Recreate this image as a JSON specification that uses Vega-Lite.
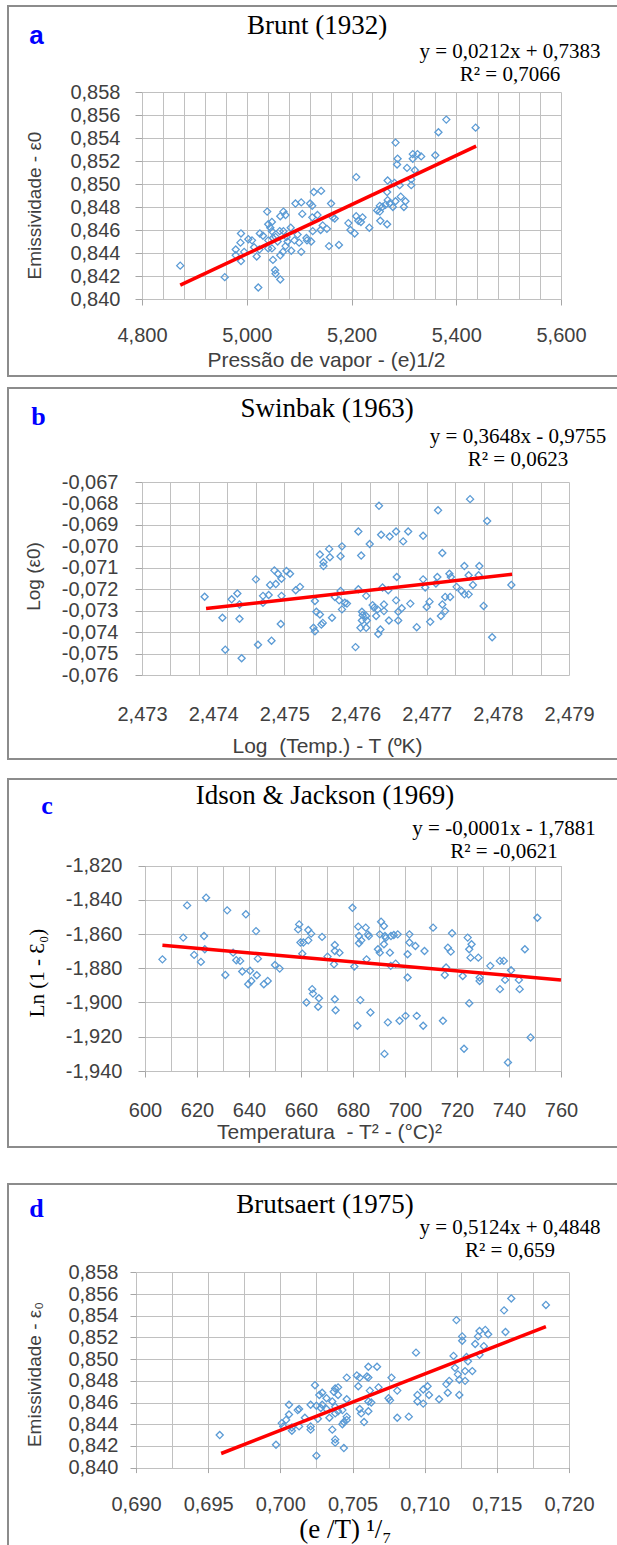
{
"$schema": "https://vega.github.io/schema/vega-lite/v6.json",
"background": "white",
"padding": {"left": 7, "top": 5, "right": -26, "bottom": -20},
"config": {
  "axis": {"labelFont": "Liberation Sans", "labelFontSize": 20, "labelColor": "#404040", "labelOverlap": false, "labelFlush": false,
           "titleFont": "Liberation Sans", "titleFontSize": 21, "titleFontWeight": "normal", "titleColor": "#404040",
           "gridColor": "#C0C0C0", "gridWidth": 1, "gridOpacity": 1, "tickColor": "#A6A6A6", "tickWidth": 1, "domain": false}
},
"datasets": {
  "a": [{"x":4.873,"y":0.8429},{"x":4.958,"y":0.8419},{"x":4.979,"y":0.8443},{"x":4.979,"y":0.8438},{"x":4.988,"y":0.8449},{"x":4.989,"y":0.8457},{"x":4.989,"y":0.8433},{"x":4.995,"y":0.8441},{"x":5.003,"y":0.8452},{"x":5.010,"y":0.8451},{"x":5.014,"y":0.8445},{"x":5.019,"y":0.8437},{"x":5.022,"y":0.8410},{"x":5.024,"y":0.8443},{"x":5.025,"y":0.8457},{"x":5.031,"y":0.8455},{"x":5.039,"y":0.8476},{"x":5.041,"y":0.8465},{"x":5.041,"y":0.8451},{"x":5.041,"y":0.8444},{"x":5.045,"y":0.8462},{"x":5.048,"y":0.8467},{"x":5.048,"y":0.8459},{"x":5.048,"y":0.8444},{"x":5.050,"y":0.8453},{"x":5.050,"y":0.8434},{"x":5.054,"y":0.8425},{"x":5.055,"y":0.8422},{"x":5.055,"y":0.8454},{"x":5.059,"y":0.8450},{"x":5.063,"y":0.8459},{"x":5.064,"y":0.8472},{"x":5.064,"y":0.8438},{"x":5.064,"y":0.8417},{"x":5.069,"y":0.8441},{"x":5.070,"y":0.8476},{"x":5.070,"y":0.8459},{"x":5.074,"y":0.8473},{"x":5.074,"y":0.8446},{"x":5.076,"y":0.8454},{"x":5.078,"y":0.8450},{"x":5.084,"y":0.8462},{"x":5.085,"y":0.8442},{"x":5.091,"y":0.8451},{"x":5.093,"y":0.8483},{"x":5.097,"y":0.8456},{"x":5.100,"y":0.8449},{"x":5.104,"y":0.8484},{"x":5.104,"y":0.8441},{"x":5.106,"y":0.8474},{"x":5.114,"y":0.8453},{"x":5.115,"y":0.8451},{"x":5.121,"y":0.8483},{"x":5.123,"y":0.8450},{"x":5.125,"y":0.8481},{"x":5.125,"y":0.8471},{"x":5.126,"y":0.8459},{"x":5.128,"y":0.8493},{"x":5.135,"y":0.8473},{"x":5.141,"y":0.8460},{"x":5.142,"y":0.8494},{"x":5.145,"y":0.8464},{"x":5.153,"y":0.8461},{"x":5.157,"y":0.8446},{"x":5.161,"y":0.8483},{"x":5.164,"y":0.8471},{"x":5.168,"y":0.8470},{"x":5.176,"y":0.8447},{"x":5.194,"y":0.8466},{"x":5.198,"y":0.8460},{"x":5.206,"y":0.8457},{"x":5.209,"y":0.8472},{"x":5.209,"y":0.8506},{"x":5.213,"y":0.8468},{"x":5.218,"y":0.8467},{"x":5.221,"y":0.8471},{"x":5.234,"y":0.8462},{"x":5.249,"y":0.8477},{"x":5.254,"y":0.8476},{"x":5.254,"y":0.8481},{"x":5.255,"y":0.8468},{"x":5.259,"y":0.8480},{"x":5.265,"y":0.8482},{"x":5.268,"y":0.8465},{"x":5.268,"y":0.8493},{"x":5.269,"y":0.8503},{"x":5.269,"y":0.8486},{"x":5.273,"y":0.8483},{"x":5.279,"y":0.8480},{"x":5.282,"y":0.8501},{"x":5.284,"y":0.8485},{"x":5.284,"y":0.8536},{"x":5.287,"y":0.8517},{"x":5.288,"y":0.8522},{"x":5.292,"y":0.8499},{"x":5.294,"y":0.8489},{"x":5.300,"y":0.8480},{"x":5.303,"y":0.8485},{"x":5.306,"y":0.8514},{"x":5.314,"y":0.8504},{"x":5.314,"y":0.8499},{"x":5.317,"y":0.8526},{"x":5.317,"y":0.8522},{"x":5.321,"y":0.8512},{"x":5.326,"y":0.8526},{"x":5.333,"y":0.8524},{"x":5.360,"y":0.8525},{"x":5.366,"y":0.8545},{"x":5.381,"y":0.8556},{"x":5.437,"y":0.8549}],
  "la": [{"x":4.873,"y":0.8412},{"x":5.438,"y":0.8533}],
  "b": [{"x":2.47761,"y":-0.0678},{"x":2.47633,"y":-0.06811},{"x":2.47716,"y":-0.06832},{"x":2.47785,"y":-0.06882},{"x":2.47604,"y":-0.06931},{"x":2.47636,"y":-0.06946},{"x":2.47648,"y":-0.06954},{"x":2.47657,"y":-0.06931},{"x":2.47674,"y":-0.06931},{"x":2.47667,"y":-0.06977},{"x":2.47695,"y":-0.06951},{"x":2.4762,"y":-0.06989},{"x":2.47581,"y":-0.07},{"x":2.47563,"y":-0.07012},{"x":2.4755,"y":-0.07038},{"x":2.47579,"y":-0.07046},{"x":2.47564,"y":-0.07051},{"x":2.47608,"y":-0.07043},{"x":2.47555,"y":-0.07074},{"x":2.47555,"y":-0.07092},{"x":2.47722,"y":-0.07031},{"x":2.47753,"y":-0.07092},{"x":2.47774,"y":-0.07092},{"x":2.47486,"y":-0.07112},{"x":2.47491,"y":-0.07128},{"x":2.47503,"y":-0.07115},{"x":2.47508,"y":-0.07128},{"x":2.4746,"y":-0.07154},{"x":2.47496,"y":-0.07151},{"x":2.47658,"y":-0.07143},{"x":2.47695,"y":-0.07154},{"x":2.47715,"y":-0.07143},{"x":2.47732,"y":-0.07128},{"x":2.47734,"y":-0.07143},{"x":2.47759,"y":-0.07135},{"x":2.47773,"y":-0.07135},{"x":2.47388,"y":-0.07235},{"x":2.47413,"y":-0.07333},{"x":2.47417,"y":-0.07482},{"x":2.47426,"y":-0.07247},{"x":2.47434,"y":-0.0722},{"x":2.47437,"y":-0.07271},{"x":2.47437,"y":-0.07338},{"x":2.4744,"y":-0.07522},{"x":2.47463,"y":-0.07459},{"x":2.4747,"y":-0.07231},{"x":2.4747,"y":-0.07263},{"x":2.47478,"y":-0.07227},{"x":2.4748,"y":-0.0718},{"x":2.47482,"y":-0.0744},{"x":2.47488,"y":-0.07176},{"x":2.47496,"y":-0.07231},{"x":2.47495,"y":-0.07362},{"x":2.47516,"y":-0.07205},{"x":2.47522,"y":-0.07189},{"x":2.47543,"y":-0.07255},{"x":2.47541,"y":-0.0738},{"x":2.47543,"y":-0.07396},{"x":2.47545,"y":-0.07305},{"x":2.4755,"y":-0.07318},{"x":2.47554,"y":-0.07357},{"x":2.47552,"y":-0.07365},{"x":2.47567,"y":-0.07333},{"x":2.47571,"y":-0.07236},{"x":2.47577,"y":-0.07252},{"x":2.47579,"y":-0.07208},{"x":2.47581,"y":-0.07294},{"x":2.47585,"y":-0.07263},{"x":2.47588,"y":-0.07267},{"x":2.476,"y":-0.0747},{"x":2.47604,"y":-0.072},{"x":2.47609,"y":-0.07305},{"x":2.4761,"y":-0.07321},{"x":2.47609,"y":-0.07346},{"x":2.47607,"y":-0.0738},{"x":2.47615,"y":-0.07231},{"x":2.47615,"y":-0.07325},{"x":2.47616,"y":-0.07346},{"x":2.47615,"y":-0.0738},{"x":2.47624,"y":-0.07274},{"x":2.47626,"y":-0.07286},{"x":2.47629,"y":-0.07325},{"x":2.47631,"y":-0.07294},{"x":2.47632,"y":-0.07409},{"x":2.47635,"y":-0.07388},{"x":2.47638,"y":-0.07192},{"x":2.4764,"y":-0.07271},{"x":2.4764,"y":-0.07302},{"x":2.47646,"y":-0.07205},{"x":2.47647,"y":-0.07346},{"x":2.47657,"y":-0.07252},{"x":2.4766,"y":-0.07305},{"x":2.4766,"y":-0.07346},{"x":2.47665,"y":-0.07289},{"x":2.47677,"y":-0.07267},{"x":2.47686,"y":-0.07377},{"x":2.47698,"y":-0.07192},{"x":2.477,"y":-0.07283},{"x":2.47704,"y":-0.07258},{"x":2.47705,"y":-0.07352},{"x":2.47713,"y":-0.07173},{"x":2.4772,"y":-0.07325},{"x":2.47722,"y":-0.07271},{"x":2.47726,"y":-0.07302},{"x":2.47726,"y":-0.07236},{"x":2.47733,"y":-0.07236},{"x":2.47742,"y":-0.07189},{"x":2.47749,"y":-0.07208},{"x":2.47753,"y":-0.07224},{"x":2.47759,"y":-0.07224},{"x":2.47765,"y":-0.0718},{"x":2.4778,"y":-0.07278},{"x":2.47792,"y":-0.07424},{"x":2.47819,"y":-0.0718}],
  "lb": [{"x":2.4739,"y":-0.0729},{"x":2.4782,"y":-0.0713}],
  "c": [{"x":606.7,"y":-1.8748},{"x":614.7,"y":-1.8621},{"x":616.2,"y":-1.8433},{"x":618.9,"y":-1.8722},{"x":621.5,"y":-1.8763},{"x":622.7,"y":-1.8612},{"x":623.0,"y":-1.8689},{"x":623.5,"y":-1.8388},{"x":630.9,"y":-1.8839},{"x":631.6,"y":-1.8462},{"x":633.9,"y":-1.8709},{"x":635.1,"y":-1.8753},{"x":636.6,"y":-1.8757},{"x":637.4,"y":-1.8819},{"x":638.8,"y":-1.8485},{"x":639.7,"y":-1.8893},{"x":640.4,"y":-1.8815},{"x":640.9,"y":-1.8874},{"x":642.7,"y":-1.8583},{"x":643.0,"y":-1.8841},{"x":643.4,"y":-1.8744},{"x":645.7,"y":-1.8893},{"x":647.2,"y":-1.8874},{"x":650.0,"y":-1.8781},{"x":651.8,"y":-1.8802},{"x":658.9,"y":-1.8573},{"x":659.3,"y":-1.8544},{"x":659.8,"y":-1.865},{"x":660.5,"y":-1.8715},{"x":660.9,"y":-1.865},{"x":662.1,"y":-1.9},{"x":662.8,"y":-1.8577},{"x":662.8,"y":-1.8637},{"x":663.9,"y":-1.8598},{"x":664.3,"y":-1.8922},{"x":664.6,"y":-1.8948},{"x":666.6,"y":-1.9025},{"x":666.9,"y":-1.8975},{"x":668.1,"y":-1.8617},{"x":670.2,"y":-1.8732},{"x":672.7,"y":-1.8777},{"x":673.0,"y":-1.8664},{"x":673.0,"y":-1.8699},{"x":673.0,"y":-1.8981},{"x":673.3,"y":-1.9045},{"x":674.8,"y":-1.8709},{"x":679.8,"y":-1.8447},{"x":680.5,"y":-1.879},{"x":682.0,"y":-1.8557},{"x":682.3,"y":-1.8612},{"x":682.3,"y":-1.8654},{"x":682.8,"y":-1.8986},{"x":683.2,"y":-1.8637},{"x":681.7,"y":-1.9136},{"x":684.9,"y":-1.8563},{"x":685.2,"y":-1.8748},{"x":685.7,"y":-1.8602},{"x":686.1,"y":-1.8612},{"x":686.7,"y":-1.9058},{"x":689.6,"y":-1.8689},{"x":690.3,"y":-1.8602},{"x":690.3,"y":-1.8709},{"x":690.8,"y":-1.8528},{"x":691.9,"y":-1.8553},{"x":692.3,"y":-1.8612},{"x":691.9,"y":-1.866},{"x":692.6,"y":-1.8622},{"x":693.4,"y":-1.9116},{"x":694.2,"y":-1.8709},{"x":694.5,"y":-1.8786},{"x":694.6,"y":-1.8612},{"x":695.7,"y":-1.8606},{"x":696.4,"y":-1.8773},{"x":697.2,"y":-1.8602},{"x":697.9,"y":-1.9107},{"x":700.2,"y":-1.9078},{"x":701.0,"y":-1.8718},{"x":701.0,"y":-1.8854},{"x":701.7,"y":-1.8602},{"x":701.7,"y":-1.865},{"x":704.0,"y":-1.867},{"x":704.5,"y":-1.9078},{"x":707.0,"y":-1.9136},{"x":707.5,"y":-1.8699},{"x":710.8,"y":-1.8563},{"x":714.6,"y":-1.9107},{"x":715.3,"y":-1.8839},{"x":715.8,"y":-1.8796},{"x":716.5,"y":-1.868},{"x":717.6,"y":-1.8703},{"x":718.1,"y":-1.8596},{"x":722.2,"y":-1.8845},{"x":724.1,"y":-1.8621},{"x":724.7,"y":-1.8689},{"x":725.2,"y":-1.8738},{"x":725.6,"y":-1.866},{"x":724.7,"y":-1.9004},{"x":728.2,"y":-1.8738},{"x":728.7,"y":-1.8854},{"x":728.7,"y":-1.8874},{"x":732.8,"y":-1.8786},{"x":736.5,"y":-1.8757},{"x":736.5,"y":-1.8922},{"x":738.0,"y":-1.8757},{"x":738.5,"y":-1.8868},{"x":740.8,"y":-1.8812},{"x":743.8,"y":-1.8868},{"x":744.1,"y":-1.8922},{"x":746.1,"y":-1.8689},{"x":750.9,"y":-1.8505},{"x":692.1,"y":-1.930},{"x":722.7,"y":-1.927},{"x":739.6,"y":-1.935},{"x":748.3,"y":-1.9204}],
  "lc": [{"x":606.7,"y":-1.8666},{"x":760,"y":-1.8868}],
  "d": [{"x":0.6958,"y":0.8430},{"x":0.6997,"y":0.8421},{"x":0.7001,"y":0.8441},{"x":0.7002,"y":0.8438},{"x":0.7004,"y":0.8444},{"x":0.7006,"y":0.8449},{"x":0.7006,"y":0.8458},{"x":0.7008,"y":0.8437},{"x":0.7008,"y":0.8434},{"x":0.7012,"y":0.8453},{"x":0.7013,"y":0.8438},{"x":0.7013,"y":0.8454},{"x":0.7017,"y":0.8446},{"x":0.7021,"y":0.8438},{"x":0.7021,"y":0.8435},{"x":0.7021,"y":0.8458},{"x":0.7024,"y":0.8476},{"x":0.7025,"y":0.8411},{"x":0.7025,"y":0.8457},{"x":0.7026,"y":0.8445},{"x":0.7027,"y":0.8467},{"x":0.7028,"y":0.8455},{"x":0.7029,"y":0.8469},{"x":0.7029,"y":0.8458},{"x":0.7032,"y":0.8464},{"x":0.7032,"y":0.8454},{"x":0.7034,"y":0.8446},{"x":0.7036,"y":0.8435},{"x":0.7036,"y":0.8461},{"x":0.7037,"y":0.8470},{"x":0.7038,"y":0.8426},{"x":0.7038,"y":0.8423},{"x":0.7038,"y":0.8450},{"x":0.7038,"y":0.8473},{"x":0.7038,"y":0.8456},{"x":0.7040,"y":0.8474},{"x":0.7040,"y":0.8467},{"x":0.7040,"y":0.8452},{"x":0.7043,"y":0.8440},{"x":0.7043,"y":0.8453},{"x":0.7044,"y":0.8442},{"x":0.7044,"y":0.8418},{"x":0.7046,"y":0.8447},{"x":0.7046,"y":0.8444},{"x":0.7046,"y":0.8463},{"x":0.7046,"y":0.8483},{"x":0.7053,"y":0.8485},{"x":0.7054,"y":0.8475},{"x":0.7055,"y":0.8483},{"x":0.7055,"y":0.8454},{"x":0.7056,"y":0.8450},{"x":0.7058,"y":0.8442},{"x":0.7060,"y":0.8484},{"x":0.7061,"y":0.8493},{"x":0.7061,"y":0.8483},{"x":0.7061,"y":0.8452},{"x":0.7061,"y":0.8461},{"x":0.7062,"y":0.8471},{"x":0.7063,"y":0.8460},{"x":0.7067,"y":0.8493},{"x":0.7068,"y":0.8474},{"x":0.7075,"y":0.8464},{"x":0.7076,"y":0.8462},{"x":0.7077,"y":0.8483},{"x":0.7081,"y":0.8471},{"x":0.7081,"y":0.8446},{"x":0.7089,"y":0.8447},{"x":0.7094,"y":0.8506},{"x":0.7095,"y":0.8467},{"x":0.7095,"y":0.8461},{"x":0.7099,"y":0.8472},{"x":0.7099,"y":0.8459},{"x":0.7102,"y":0.8475},{"x":0.7103,"y":0.8467},{"x":0.7110,"y":0.8463},{"x":0.7115,"y":0.8477},{"x":0.7116,"y":0.8469},{"x":0.7117,"y":0.8480},{"x":0.7120,"y":0.8503},{"x":0.7121,"y":0.8492},{"x":0.7122,"y":0.8536},{"x":0.7123,"y":0.8486},{"x":0.7124,"y":0.8481},{"x":0.7124,"y":0.8467},{"x":0.7126,"y":0.8521},{"x":0.7126,"y":0.8517},{"x":0.7128,"y":0.8489},{"x":0.7128,"y":0.8480},{"x":0.7129,"y":0.8502},{"x":0.7130,"y":0.8498},{"x":0.7133,"y":0.8489},{"x":0.7135,"y":0.8514},{"x":0.7137,"y":0.8521},{"x":0.7138,"y":0.8526},{"x":0.7138,"y":0.8504},{"x":0.7141,"y":0.8512},{"x":0.7142,"y":0.8527},{"x":0.7144,"y":0.8523},{"x":0.7155,"y":0.8545},{"x":0.7156,"y":0.8525},{"x":0.7160,"y":0.8556},{"x":0.7184,"y":0.8550}],
  "ld": [{"x":0.6959,"y":0.8413},{"x":0.7184,"y":0.8530}],
  "one": [{}]
},
"spacing": 10,
"vconcat": [
 {
  "width": 634, "height": 370,
  "view": {"stroke": "#8C8C8C", "strokeWidth": 2},
  "resolve": {"axis": {"x": "independent", "y": "independent"}},
  "layer": [
   {"data": {"name": "a"},
    "mark": {"type": "point", "shape": "diamond", "size": 50, "strokeWidth": 1.3, "color": "#5B9BD5", "filled": false, "opacity": 1},
    "encoding": {
     "x": {"field": "x", "type": "quantitative", "scale": {"domain": [4.8, 5.6], "range": [134, 553], "nice": false, "zero": false},
           "axis": {"orient": "top", "minExtent": 0, "maxExtent": 0, "values": [4.8,4.84,4.88,4.92,4.96,5,5.04,5.08,5.12,5.16,5.2,5.24,5.28,5.32,5.36,5.4,5.44,5.48,5.52,5.56,5.6], "grid": true, "labels": false, "ticks": false, "domain": false, "title": null}},
     "y": {"field": "y", "type": "quantitative", "scale": {"domain": [0.84, 0.858], "range": [293, 86], "nice": false, "zero": false},
           "axis": {"orient": "left", "offset": -134, "values": [0.84,0.842,0.844,0.846,0.848,0.85,0.852,0.854,0.856,0.858], "grid": true, "ticks": true, "tickSize": 7, "labelPadding": 15,
                    "labelExpr": "replace(format(datum.value, '.3f'), '.', ',')",
                    "title": "Emissividade - ε0", "titleFontSize": 19, "titleX": -107.5, "titleY": 199, "titleBaseline": "middle", "titleAngle": -90}}
    }},
   {"data": {"name": "la"},
    "mark": {"type": "line", "color": "#FF0000", "strokeWidth": 3.5},
    "encoding": {
     "x": {"field": "x", "type": "quantitative", "scale": {"domain": [4.8, 5.6], "range": [134, 553], "nice": false, "zero": false},
           "axis": {"orient": "bottom", "offset": -77, "values": [4.8,5,5.2,5.4,5.6], "grid": false, "ticks": true, "tickSize": 6, "labelPadding": 20,
                    "labelExpr": "replace(format(datum.value, '.3f'), '.', ',')",
                    "title": "Pressão de vapor - (e)1/2", "titleX": 318, "titleY": 61, "titleBaseline": "middle"}},
     "y": {"field": "y", "type": "quantitative", "scale": {"domain": [0.84, 0.858], "range": [293, 86], "nice": false, "zero": false}, "axis": null}
    }},
   {"data": {"name": "one"},
    "mark": {"type": "text", "font": "Liberation Serif", "fontSize": 27, "color": "#000000", "align": "center", "baseline": "middle"},
    "encoding": {
     "x": {"datum": 5.13413, "type": "quantitative", "scale": {"domain": [4.8, 5.6], "range": [134, 553], "nice": false, "zero": false}, "axis": null},
     "y": {"datum": 0.863739, "type": "quantitative", "scale": {"domain": [0.84, 0.858], "range": [293, 86], "nice": false, "zero": false}, "axis": null},
     "text": {"value": "Brunt (1932)"}
    }},
   {"data": {"name": "one"},
    "mark": {"type": "text", "font": "Liberation Sans", "fontSize": 26, "fontWeight": "bold", "color": "#0000FF", "align": "center", "baseline": "middle"},
    "encoding": {
     "x": {"datum": 4.5986, "type": "quantitative", "scale": {"domain": [4.8, 5.6], "range": [134, 553], "nice": false, "zero": false}, "axis": null},
     "y": {"datum": 0.86287, "type": "quantitative", "scale": {"domain": [0.84, 0.858], "range": [293, 86], "nice": false, "zero": false}, "axis": null},
     "text": {"value": "a"}
    }},
   {"data": {"name": "one"},
    "mark": {"type": "text", "font": "Liberation Serif", "fontSize": 21, "color": "#000000", "align": "center", "baseline": "middle", "lineHeight": 23},
    "encoding": {
     "x": {"datum": 5.5026, "type": "quantitative", "scale": {"domain": [4.8, 5.6], "range": [134, 553], "nice": false, "zero": false}, "axis": null},
     "y": {"datum": 0.861478, "type": "quantitative", "scale": {"domain": [0.84, 0.858], "range": [293, 86], "nice": false, "zero": false}, "axis": null},
     "text": {"value": ["y = 0,0212x + 0,7383", "R² = 0,7066"]}
    }}
  ]
 },
 {
  "spacing": 18,
  "vconcat": [
   {
    "width": 634, "height": 371,
    "view": {"stroke": "#8C8C8C", "strokeWidth": 2},
    "resolve": {"axis": {"x": "independent", "y": "independent"}},
    "layer": [
     {"data": {"name": "b"},
      "mark": {"type": "point", "shape": "diamond", "size": 50, "strokeWidth": 1.3, "color": "#5B9BD5", "filled": false, "opacity": 1},
      "encoding": {
       "x": {"field": "x", "type": "quantitative", "scale": {"domain": [2.473, 2.479], "range": [134, 561], "nice": false, "zero": false},
             "axis": {"orient": "top", "minExtent": 0, "maxExtent": 0, "values": [2.473,2.4734,2.4738,2.4742,2.4746,2.475,2.4754,2.4758,2.4762,2.4766,2.477,2.4774,2.4778,2.4782,2.4786,2.479], "grid": true, "labels": false, "ticks": false, "domain": false, "title": null}},
       "y": {"field": "y", "type": "quantitative", "scale": {"domain": [-0.076, -0.067], "range": [287, 94], "nice": false, "zero": false},
             "axis": {"orient": "left", "offset": -134, "values": [-0.076,-0.075,-0.074,-0.073,-0.072,-0.071,-0.07,-0.069,-0.068,-0.067], "grid": true, "ticks": true, "tickSize": 7, "labelPadding": 17,
                      "labelExpr": "replace(replace(format(datum.value, '.3f'), '.', ','), '\u2212', '-')",
                      "title": "Log (ε0)", "titleFontSize": 19, "titleX": -109, "titleY": 188, "titleBaseline": "middle", "titleAngle": -90}}
      }},
     {"data": {"name": "lb"},
      "mark": {"type": "line", "color": "#FF0000", "strokeWidth": 3.5},
      "encoding": {
       "x": {"field": "x", "type": "quantitative", "scale": {"domain": [2.473, 2.479], "range": [134, 561], "nice": false, "zero": false},
             "axis": {"orient": "bottom", "offset": -84, "values": [2.473,2.474,2.475,2.476,2.477,2.478,2.479], "grid": false, "ticks": false, "labelPadding": 29,
                      "labelExpr": "replace(format(datum.value, '.3f'), '.', ',')",
                      "title": "Log \u00a0(Temp.) - T (ºK)", "titleX": 319, "titleY": 71, "titleBaseline": "middle"}},
       "y": {"field": "y", "type": "quantitative", "scale": {"domain": [-0.076, -0.067], "range": [287, 94], "nice": false, "zero": false}, "axis": null}
      }},
     {"data": {"name": "one"},
      "mark": {"type": "text", "font": "Liberation Serif", "fontSize": 27, "color": "#000000", "align": "center", "baseline": "middle"},
      "encoding": {
       "x": {"datum": 2.4755995, "type": "quantitative", "scale": {"domain": [2.473, 2.479], "range": [134, 561], "nice": false, "zero": false}, "axis": null},
       "y": {"datum": -0.063615, "type": "quantitative", "scale": {"domain": [-0.076, -0.067], "range": [287, 94], "nice": false, "zero": false}, "axis": null},
       "text": {"value": "Swinbak (1963)"}
      }},
     {"data": {"name": "one"},
      "mark": {"type": "text", "font": "Liberation Serif", "fontSize": 26, "fontWeight": "bold", "color": "#0000FF", "align": "center", "baseline": "middle"},
      "encoding": {
       "x": {"datum": 2.471546, "type": "quantitative", "scale": {"domain": [2.473, 2.479], "range": [134, 561], "nice": false, "zero": false}, "axis": null},
       "y": {"datum": -0.063969, "type": "quantitative", "scale": {"domain": [-0.076, -0.067], "range": [287, 94], "nice": false, "zero": false}, "axis": null},
       "text": {"value": "b"}
      }},
     {"data": {"name": "one"},
      "mark": {"type": "text", "font": "Liberation Serif", "fontSize": 21, "color": "#000000", "align": "center", "baseline": "middle", "lineHeight": 23},
      "encoding": {
       "x": {"datum": 2.478283, "type": "quantitative", "scale": {"domain": [2.473, 2.479], "range": [134, 561], "nice": false, "zero": false}, "axis": null},
       "y": {"datum": -0.06492, "type": "quantitative", "scale": {"domain": [-0.076, -0.067], "range": [287, 94], "nice": false, "zero": false}, "axis": null},
       "text": {"value": ["y = 0,3648x - 0,9755", "R² = 0,0623"]}
      }}
    ]
   },
   {
    "spacing": 35,
    "vconcat": [
     {
      "width": 634, "height": 368,
      "view": {"stroke": "#8C8C8C", "strokeWidth": 2},
      "resolve": {"axis": {"x": "independent", "y": "independent"}},
      "layer": [
       {"data": {"name": "c"},
        "mark": {"type": "point", "shape": "diamond", "size": 50, "strokeWidth": 1.3, "color": "#5B9BD5", "filled": false, "opacity": 1},
        "encoding": {
         "x": {"field": "x", "type": "quantitative", "scale": {"domain": [600, 760], "range": [137, 553], "nice": false, "zero": false},
               "axis": {"orient": "top", "minExtent": 0, "maxExtent": 0, "values": [600,610,620,630,640,650,660,670,680,690,700,710,720,730,740,750,760], "grid": true, "labels": false, "ticks": false, "domain": false, "title": null}},
         "y": {"field": "y", "type": "quantitative", "scale": {"domain": [-1.94, -1.82], "range": [292, 86.5], "nice": false, "zero": false},
               "axis": {"orient": "left", "offset": -137, "values": [-1.94,-1.92,-1.9,-1.88,-1.86,-1.84,-1.82], "grid": true, "ticks": true, "tickSize": 7, "labelPadding": 16,
                        "labelExpr": "replace(replace(format(datum.value, '.3f'), '.', ','), '\u2212', '-')",
                        "title": "Ln (1 - Ɛ₀)", "titleFont": "Liberation Serif", "titleColor": "#000000", "titleFontSize": 21, "titleX": -108, "titleY": 193.5, "titleBaseline": "middle", "titleAngle": -90}}
        }},
       {"data": {"name": "lc"},
        "mark": {"type": "line", "color": "#FF0000", "strokeWidth": 3.5},
        "encoding": {
         "x": {"field": "x", "type": "quantitative", "scale": {"domain": [600, 760], "range": [137, 553], "nice": false, "zero": false},
               "axis": {"orient": "bottom", "offset": -76, "values": [600,620,640,660,680,700,720,740,760], "grid": false, "ticks": true, "tickSize": 6, "labelPadding": 23, "format": "d",
                        "title": "Temperatura \u00a0- T² - (°C)²", "titleX": 321, "titleY": 61, "titleBaseline": "middle"}},
         "y": {"field": "y", "type": "quantitative", "scale": {"domain": [-1.94, -1.82], "range": [292, 86.5], "nice": false, "zero": false}, "axis": null}
        }},
       {"data": {"name": "one"},
        "mark": {"type": "text", "font": "Liberation Serif", "fontSize": 27, "color": "#000000", "align": "center", "baseline": "middle"},
        "encoding": {
         "x": {"datum": 669.23, "type": "quantitative", "scale": {"domain": [600, 760], "range": [137, 553], "nice": false, "zero": false}, "axis": null},
         "y": {"datum": -1.77936, "type": "quantitative", "scale": {"domain": [-1.94, -1.82], "range": [292, 86.5], "nice": false, "zero": false}, "axis": null},
         "text": {"value": "Idson & Jackson (1969)"}
        }},
       {"data": {"name": "one"},
        "mark": {"type": "text", "font": "Liberation Serif", "fontSize": 26, "fontWeight": "bold", "color": "#0000FF", "align": "center", "baseline": "middle"},
        "encoding": {
         "x": {"datum": 562.31, "type": "quantitative", "scale": {"domain": [600, 760], "range": [137, 553], "nice": false, "zero": false}, "axis": null},
         "y": {"datum": -1.78526, "type": "quantitative", "scale": {"domain": [-1.94, -1.82], "range": [292, 86.5], "nice": false, "zero": false}, "axis": null},
         "text": {"value": "c"}
        }},
       {"data": {"name": "one"},
        "mark": {"type": "text", "font": "Liberation Serif", "fontSize": 21, "color": "#000000", "align": "center", "baseline": "middle", "lineHeight": 23},
        "encoding": {
         "x": {"datum": 738.08, "type": "quantitative", "scale": {"domain": [600, 760], "range": [137, 553], "nice": false, "zero": false}, "axis": null},
         "y": {"datum": -1.79869, "type": "quantitative", "scale": {"domain": [-1.94, -1.82], "range": [292, 86.5], "nice": false, "zero": false}, "axis": null},
         "text": {"value": ["y = -0,0001x - 1,7881", "R² = -0,0621"]}
        }}
      ]
     },
     {
      "width": 634, "height": 380,
      "view": {"stroke": "#8C8C8C", "strokeWidth": 2},
      "resolve": {"axis": {"x": "independent", "y": "independent"}},
      "layer": [
       {"data": {"name": "d"},
        "mark": {"type": "point", "shape": "diamond", "size": 50, "strokeWidth": 1.3, "color": "#5B9BD5", "filled": false, "opacity": 1},
        "encoding": {
         "x": {"field": "x", "type": "quantitative", "scale": {"domain": [0.69, 0.72], "range": [128, 561], "nice": false, "zero": false},
               "axis": {"orient": "top", "minExtent": 0, "maxExtent": 0, "values": [0.69,0.6925,0.695,0.6975,0.7,0.7025,0.705,0.7075,0.71,0.7125,0.715,0.7175,0.72], "grid": true, "labels": false, "ticks": false, "domain": false, "title": null}},
         "y": {"field": "y", "type": "quantitative", "scale": {"domain": [0.84, 0.858], "range": [283.6, 88.4], "nice": false, "zero": false},
               "axis": {"orient": "left", "offset": -128, "values": [0.84,0.842,0.844,0.846,0.848,0.85,0.852,0.854,0.856,0.858], "grid": true, "ticks": true, "tickSize": 6, "labelPadding": 12,
                        "labelExpr": "replace(format(datum.value, '.3f'), '.', ',')",
                        "title": "Emissividade - ε₀", "titleFontSize": 19, "titleX": -102, "titleY": 190, "titleBaseline": "middle", "titleAngle": -90}}
        }},
       {"data": {"name": "ld"},
        "mark": {"type": "line", "color": "#FF0000", "strokeWidth": 3.5},
        "encoding": {
         "x": {"field": "x", "type": "quantitative", "scale": {"domain": [0.69, 0.72], "range": [128, 561], "nice": false, "zero": false},
               "axis": {"orient": "bottom", "offset": -96.4, "values": [0.69,0.695,0.7,0.705,0.71,0.715,0.72], "grid": false, "ticks": true, "tickSize": 5, "labelPadding": 22,
                        "labelExpr": "replace(format(datum.value, '.3f'), '.', ',')",
                        "title": "(e /T) ¹/₇", "titleFont": "Liberation Serif", "titleColor": "#000000", "titleFontSize": 27, "titleX": 337, "titleY": 62, "titleBaseline": "middle"}},
         "y": {"field": "y", "type": "quantitative", "scale": {"domain": [0.84, 0.858], "range": [283.6, 88.4], "nice": false, "zero": false}, "axis": null}
        }},
       {"data": {"name": "one"},
        "mark": {"type": "text", "font": "Liberation Serif", "fontSize": 27, "color": "#000000", "align": "center", "baseline": "middle"},
        "encoding": {
         "x": {"datum": 0.703095, "type": "quantitative", "scale": {"domain": [0.69, 0.72], "range": [128, 561], "nice": false, "zero": false}, "axis": null},
         "y": {"datum": 0.864215, "type": "quantitative", "scale": {"domain": [0.84, 0.858], "range": [283.6, 88.4], "nice": false, "zero": false}, "axis": null},
         "text": {"value": "Brutsaert (1975)"}
        }},
       {"data": {"name": "one"},
        "mark": {"type": "text", "font": "Liberation Serif", "fontSize": 26, "fontWeight": "bold", "color": "#0000FF", "align": "center", "baseline": "middle"},
        "encoding": {
         "x": {"datum": 0.683106, "type": "quantitative", "scale": {"domain": [0.69, 0.72], "range": [128, 561], "nice": false, "zero": false}, "axis": null},
         "y": {"datum": 0.863846, "type": "quantitative", "scale": {"domain": [0.84, 0.858], "range": [283.6, 88.4], "nice": false, "zero": false}, "axis": null},
         "text": {"value": "d"}
        }},
       {"data": {"name": "one"},
        "mark": {"type": "text", "font": "Liberation Serif", "fontSize": 21, "color": "#000000", "align": "center", "baseline": "middle", "lineHeight": 23},
        "encoding": {
         "x": {"datum": 0.715912, "type": "quantitative", "scale": {"domain": [0.69, 0.72], "range": [128, 561], "nice": false, "zero": false}, "axis": null},
         "y": {"datum": 0.862057, "type": "quantitative", "scale": {"domain": [0.84, 0.858], "range": [283.6, 88.4], "nice": false, "zero": false}, "axis": null},
         "text": {"value": ["y = 0,5124x + 0,4848", "R² = 0,659"]}
        }}
      ]
     }
    ]
   }
  ]
 }
]
}
